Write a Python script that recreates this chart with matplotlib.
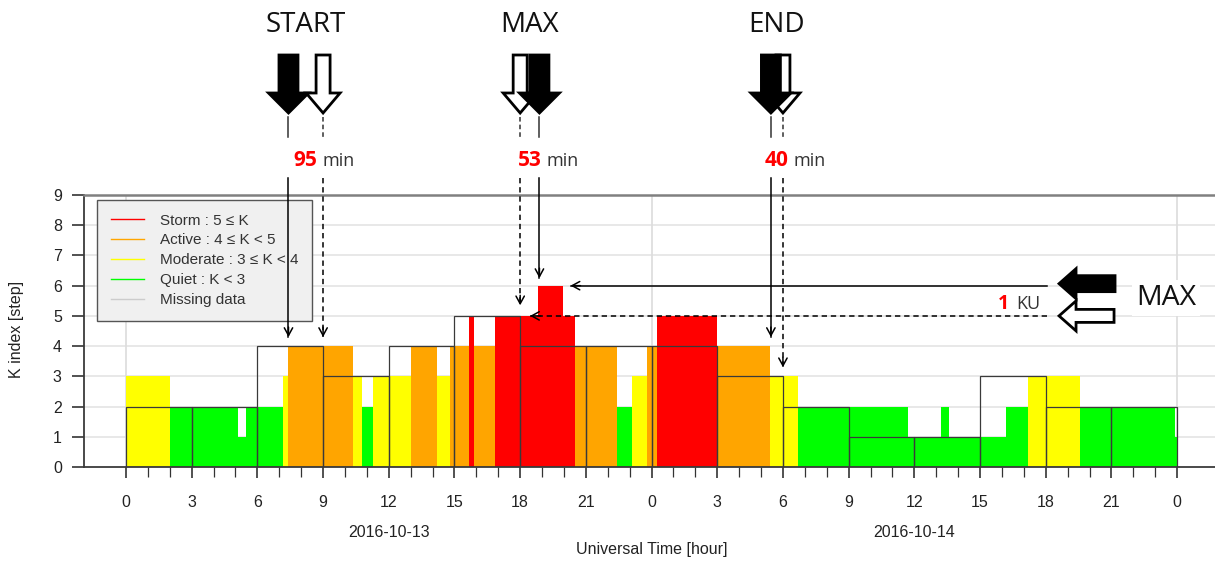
import matplotlib
matplotlib.use('Agg')
import matplotlib.pyplot as plt
from matplotlib.lines import Line2D
from matplotlib.patches import Polygon
from matplotlib.ticker import FixedLocator

# observed K index segments (hours since 2016-10-13 00:00 UT)
SEG_START = [0.0, 2.0, 5.13, 5.47, 7.15, 7.41, 10.38, 10.76, 11.26, 13.0,
             14.2, 14.8, 15.66, 15.9, 16.85, 18.83, 19.94, 20.5, 22.4, 23.1,
             23.78, 24.23, 26.97, 29.4, 30.7, 35.72, 37.2, 37.6, 40.18, 41.2,
             43.56, 47.9]
SEG_END = [2.0, 5.13, 5.47, 7.15, 7.41, 10.38, 10.76, 11.26, 13.0, 14.2,
           14.8, 15.66, 15.9, 16.85, 18.83, 19.94, 20.5, 22.4, 23.1, 23.78,
           24.23, 26.97, 29.4, 30.7, 35.72, 37.2, 37.6, 40.18, 41.2, 43.56,
           47.9, 48.0]
SEG_K = [3, 2, 1, 2, 3, 4, 3, 2, 3, 4,
         3, 4, 5, 4, 5, 6, 5, 4, 2, 3,
         4, 5, 4, 3, 2, 1, 2, 1, 2, 3,
         2, 1]

# 3-hour reference K index (outlined)
REF_START = list(range(0, 48, 3))
REF_K = [2, 2, 4, 3, 4, 5, 4, 4, 4, 3, 2, 1, 1, 3, 2, 2]

LEGEND_LABELS = ["Storm : 5 \u2264 K", "Active : 4 \u2264 K < 5",
                 "Moderate : 3 \u2264 K < 4", "Quiet : K < 3", "Missing data"]
LEGEND_COLORS = ['#ff0000', '#ffa500', '#ffff00', '#00ff00', '#cccccc']

DATE_LABELS = ['2016-10-13', '2016-10-14']
DATE_HOURS = [12, 36]

# event markers: solid = observed, dashed = reference
EVENT_NAMES = ['START', 'MAX', 'END']
OBS_HOURS = [7.42, 18.88, 29.45]
REF_HOURS = [9.0, 18.0, 30.0]
DELAY_MIN = ['95', '53', '40']
OBS_TIP_K = [4.3, 6.25, 4.3]
REF_TIP_K = [4.3, 5.35, 3.3]

# max amplitude comparison
MAX_OBS_K = 6
MAX_REF_K = 5
MAX_OBS_TIP_H = 20.3
MAX_REF_TIP_H = 18.45
MAX_LINE_FROM_H = 42.06
KU_DIFF = '1'


def k_color(k):
    if k >= 5:
        return '#ff0000'
    if k >= 4:
        return '#ffa500'
    if k >= 3:
        return '#ffff00'
    return '#00ff00'


W, H = 1215, 561
fig = plt.figure(figsize=(W / 100, H / 100), dpi=100)
ax = fig.add_axes([84 / W, 94 / H, 1131 / W, 272 / H])
TXT = 'Liberation Sans'
FS = 11.5

widths = [e - s for s, e in zip(SEG_START, SEG_END)]
ax.bar(SEG_START, SEG_K, width=widths, align='edge',
       color=[k_color(k) for k in SEG_K], linewidth=0, zorder=2)
ax.bar(REF_START, REF_K, width=3, align='edge', fill=False,
       edgecolor='#3a3a3a', linewidth=0.9, zorder=3)

ax.set_xlim(-1.918, 49.73)
ax.set_ylim(0, 9)
ax.set_axisbelow(True)
for k in range(1, 9):
    ax.axhline(k, color='#e4e4e4', lw=1.2, zorder=0)
for h in (0, 24, 48):
    ax.axvline(h, color='#dcdcdc', lw=1.2, zorder=0)

ax.xaxis.set_major_locator(FixedLocator(range(0, 49, 3)))
ax.xaxis.set_minor_locator(FixedLocator(range(0, 49)))
ax.set_xticklabels([str(h % 24) for h in range(0, 49, 3)])
ax.set_yticks(range(0, 10))
ax.tick_params(axis='x', which='major', length=8, width=1.2, color='#333333',
               pad=12, labelsize=FS, labelcolor='#222222')
ax.tick_params(axis='x', which='minor', length=7, width=0.9, color='#333333')
ax.tick_params(axis='y', length=9, width=1.2, color='#333333', pad=7,
               labelsize=FS, labelcolor='#222222')
for lab in ax.get_xticklabels() + ax.get_yticklabels():
    lab.set_family(TXT)

ax.spines['right'].set_visible(False)
ax.spines['top'].set_color('#808080')
ax.spines['top'].set_linewidth(1.8)
for s in ('left', 'bottom'):
    ax.spines[s].set_color('#3a3a3a')
    ax.spines[s].set_linewidth(1.3)

ax.set_ylabel('K index [step]', family=TXT, fontsize=FS, color='#222222')
ax.yaxis.set_label_coords(-0.053, 0.504)
for lab, h in zip(DATE_LABELS, DATE_HOURS):
    ax.text(h, -0.239, lab, transform=ax.get_xaxis_transform(), ha='center',
            va='center', family=TXT, fontsize=FS, color='#222222')
ax.text(24, -0.305, 'Universal Time [hour]', transform=ax.get_xaxis_transform(),
        ha='center', va='center', family=TXT, fontsize=FS, color='#222222')

handles = [Line2D([], [], color=c, lw=1.0) for c in LEGEND_COLORS]
leg = ax.legend(handles, LEGEND_LABELS, loc='upper left',
                bbox_to_anchor=(0.0115, 0.982), borderaxespad=0,
                prop={'family': TXT, 'size': 11}, frameon=True, fancybox=False,
                handlelength=2.2, handletextpad=1.0, labelspacing=0.38,
                borderpad=0.9)
leg.get_frame().set_facecolor('#f0f0f0')
leg.get_frame().set_edgecolor('#555555')
leg.get_frame().set_linewidth(1.0)
leg.get_frame().set_alpha(1)
for t in leg.get_texts():
    t.set_color('#333333')

# overlay in image pixel coordinates for the annotations
ov = fig.add_axes([0, 0, 1, 1], zorder=10)
ov.set_xlim(0, W)
ov.set_ylim(H, 0)
ov.axis('off')


def to_img(h, k):
    x, y = ax.transData.transform((h, k))
    return x, H - y


def down_arrow(cx, fill, sw, hw):
    pts = [(cx - sw, 55), (cx + sw, 55), (cx + sw, 93), (cx + hw, 93),
           (cx, 113), (cx - hw, 93), (cx - sw, 93)]
    ov.add_patch(Polygon(pts, closed=True, facecolor=fill, edgecolor='black',
                         lw=2, joinstyle='miter'))


def left_arrow(tip_x, cy, fill, sh, hh, back, end):
    pts = [(tip_x, cy), (back, cy - hh), (back, cy - sh), (end, cy - sh),
           (end, cy + sh), (back, cy + sh), (back, cy + hh)]
    ov.add_patch(Polygon(pts, closed=True, facecolor=fill, edgecolor='black',
                         lw=2, joinstyle='miter'))


def arrow_line(x0, y0, x1, y1, dashed):
    ls = (0, (3.5, 2.5)) if dashed else '-'
    ov.plot([x0, x1], [y0, y1], color='black', lw=1.1, ls=ls)
    dx, dy = x1 - x0, y1 - y0
    n = (dx ** 2 + dy ** 2) ** 0.5
    ov.annotate('', xy=(x1, y1), xytext=(x1 - dx / n * 10, y1 - dy / n * 10),
                arrowprops=dict(arrowstyle='->,head_length=0.55,head_width=0.3',
                                color='black', lw=1.1, shrinkA=0, shrinkB=0))


for name, ho, hr, d, ko, kr in zip(EVENT_NAMES, OBS_HOURS, REF_HOURS,
                                   DELAY_MIN, OBS_TIP_K, REF_TIP_K):
    xo, yo = to_img(ho, ko)
    xr, yr = to_img(hr, kr)
    mid = (xo + xr) / 2
    ov.text(mid, 25, name, ha='center', va='center', family='Open Sans',
            fontsize=20, color='#111111')
    down_arrow(xr, 'white', 7, 17)
    down_arrow(xo, 'black', 9.5, 20)
    ov.plot([xo, xo], [117, 137], color='#333333', lw=1.1)
    ov.plot([xr, xr], [117, 137], color='#333333', lw=1.1, ls=(0, (3, 2)))
    split = mid + 13.5
    ov.text(split - 2, 166, d, ha='right', va='baseline', family='Open Sans',
            fontsize=15, fontweight='bold', color='#ff0000')
    ov.text(split + 3, 166, 'min', ha='left', va='baseline', family='Open Sans',
            fontsize=13, color='#333333')
    arrow_line(xo, 178, xo, yo, False)
    arrow_line(xr, 178, xr, yr, True)

# horizontal MAX comparison arrows
x_from, y6 = to_img(MAX_LINE_FROM_H, MAX_OBS_K)
_, y5 = to_img(MAX_LINE_FROM_H, MAX_REF_K)
x_obs_tip, _ = to_img(MAX_OBS_TIP_H, MAX_OBS_K)
x_ref_tip, _ = to_img(MAX_REF_TIP_H, MAX_REF_K)
arrow_line(x_from, y6, x_obs_tip, y6, False)
arrow_line(x_from, y5, x_ref_tip, y5, True)
left_arrow(x_from + 12, y6 - 2, 'black', 8, 15, x_from + 29, x_from + 68)
left_arrow(x_from + 12, y5, 'white', 6.5, 15, x_from + 29, x_from + 67)
ov.text(x_from - 38, y5 - 7, KU_DIFF, ha='right', va='baseline', family='Open Sans',
        fontsize=14, fontweight='bold', color='#ff0000')
ov.text(x_from - 31, y5 - 7, 'KU', ha='left', va='baseline', family='Open Sans',
        fontsize=13, color='#333333')
ov.text(x_from + 119, (y6 + y5) / 2 - 3, 'MAX', ha='center', va='center',
        family='Open Sans', fontsize=20.5, color='#111111',
        bbox=dict(fc='white', ec='none', pad=3))

fig.savefig('out.png', dpi=100)
